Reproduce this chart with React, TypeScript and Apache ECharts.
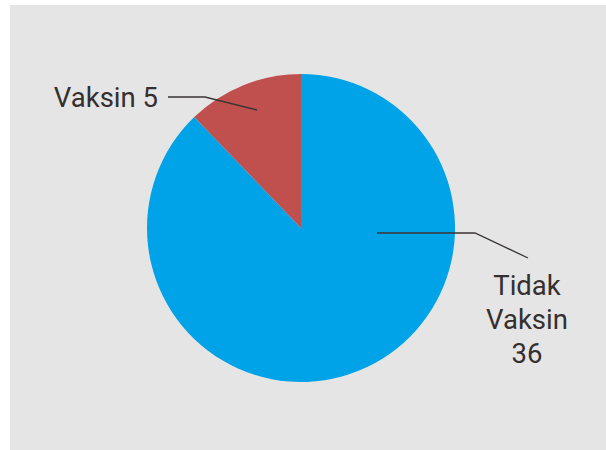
import React, { useEffect, useRef } from "react";
import * as echarts from "echarts";

const categories = ["Tidak Vaksin", "Vaksin"];
const values = [36, 5];
const colors = ["#00a2e8", "#c0504d"];

// layout constants (chart-local pixels)
const OFFSET_X = 10;
const OFFSET_Y = 5;
const CX = 291;
const CY = 223;
const R = 154;

export default function App() {
  const ref = useRef<HTMLDivElement>(null);
  useEffect(() => {
    if (!ref.current) return;
    const chart = echarts.init(ref.current, undefined, { renderer: "svg" });
    const data = categories.map((c, i) => ({
      name: c,
      value: values[i],
      itemStyle: { color: colors[i] },
    }));
    const overlayData = categories.map((c, i) => ({
      name: c,
      value: values[i],
      itemStyle: { color: "rgba(0,0,0,0)" },
    }));
    chart.setOption({
      animation: false,
      backgroundColor: "#e5e5e5",
      series: [
        {
          type: "pie",
          z: 1,
          center: [CX, CY],
          radius: R,
          startAngle: 90,
          clockwise: true,
          silent: true,
          data,
          itemStyle: { borderWidth: 0 },
          label: { show: false },
          labelLine: { show: false },
        },
        {
          type: "pie",
          z: 5,
          center: [CX, CY],
          radius: R,
          startAngle: 90,
          clockwise: true,
          silent: true,
          data: overlayData,
          itemStyle: { borderWidth: 0 },
          label: {
            show: true,
            color: "#352f2f",
            fontFamily: "Roboto",
            fontSize: 27.5,
            lineHeight: 34,
            formatter: (p: any) =>
              p.dataIndex === 0
                ? p.name.replace(" ", "\n") + "\n" + p.value
                : p.name + " " + p.value,
          },
          labelLine: {
            show: true,
            lineStyle: { color: "#3a3535", width: 1.3 },
          },
          labelLayout: (p: any) => {
            if (p.dataIndex === 0) {
              return {
                x: CX + 226,
                y: CY + 91,
                align: "center",
                verticalAlign: "middle",
                labelLinePoints: [
                  [CX + 76, CY + 5],
                  [CX + 174, CY + 5],
                  [CX + 227, CY + 30],
                ],
              };
            }
            return {
              x: CX - 143,
              y: CY - 131,
              align: "right",
              verticalAlign: "middle",
              labelLinePoints: [
                [CX - 44, CY - 118],
                [CX - 96, CY - 131],
                [CX - 133, CY - 131],
              ],
            };
          },
        },
      ],
    });
    return () => chart.dispose();
  }, []);
  return (
    <div
      style={{
        position: "absolute",
        left: 0,
        top: 0,
        width: 606,
        height: 450,
        background: "#ffffff",
      }}
    >
      <div
        ref={ref}
        style={{
          position: "absolute",
          left: OFFSET_X,
          top: OFFSET_Y,
          width: 606 - OFFSET_X,
          height: 450 - OFFSET_Y,
        }}
      />
    </div>
  );
}
